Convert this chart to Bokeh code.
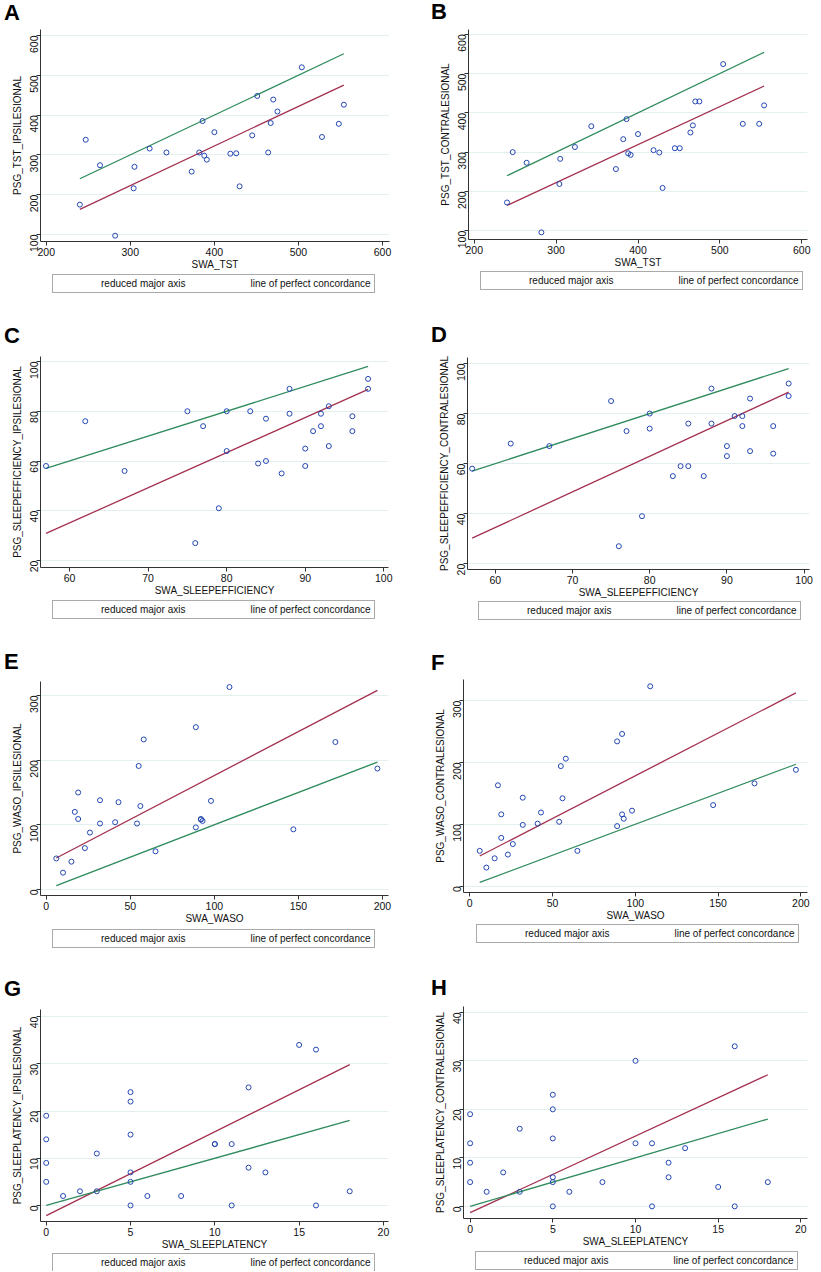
import math
import numpy as np
from bokeh.plotting import figure
from bokeh.models import FixedTicker, Legend, LegendItem, Range1d, Div
from bokeh.layouts import column, row
from bokeh.embed import file_html
from bokeh.resources import INLINE

# ---------------- data ----------------
swa_tst = [240, 247, 264, 282, 304, 305, 323, 343, 373, 382, 386, 388, 391, 400,
           419, 426, 430, 445, 451, 464, 467, 470, 475, 504, 528, 548, 554]
psg_tst_ipsi = [175, 338, 274, 97, 216, 270, 316, 306, 258, 306, 385, 298, 288, 357,
                303, 304, 221, 349, 448, 306, 380, 439, 409, 520, 345, 378, 426]
psg_tst_contra = [172, 300, 273, 96, 219, 283, 313, 366, 257, 333, 384, 297, 293, 346,
                  305, 299, 209, 310, 310, 350, 368, 429, 429, 524, 372, 372, 419]

swa_se = [57, 62, 67, 75, 76, 77, 79, 80, 80, 83, 84, 85, 85, 87,
          88, 88, 90, 90, 91, 92, 92, 93, 93, 96, 96, 98, 98]
psg_se_ipsi = [58, 76, 56, 80, 27, 74, 41, 80, 64, 80, 59, 77, 60, 55,
               89, 79, 65, 58, 72, 79, 74, 82, 66, 78, 72, 93, 89]
psg_se_contra = [58, 68, 67, 85, 27, 73, 39, 80, 74, 55, 59, 76, 59, 55,
                 90, 76, 67, 63, 79, 79, 75, 86, 65, 75, 64, 92, 87]

swa_waso = [6, 10, 15, 17, 19, 19, 23, 26, 32, 32, 41, 43, 54, 55,
            56, 58, 65, 89, 89, 92, 92, 93, 98, 109, 147, 172, 197]
psg_waso_ipsi = [48, 26, 43, 120, 150, 109, 64, 88, 138, 102, 104, 135, 102, 191,
                 129, 232, 59, 251, 96, 109, 108, 106, 137, 313, 93, 228, 187]
psg_waso_contra = [57, 30, 45, 163, 116, 78, 51, 68, 143, 99, 101, 119, 104, 194,
                   142, 206, 57, 234, 97, 246, 116, 109, 122, 323, 131, 166, 188]

swa_sl = [0, 0, 0, 0, 1, 2, 3, 3, 5, 5, 5, 5, 5, 5,
          6, 8, 10, 10, 11, 11, 12, 12, 13, 15, 16, 16, 18]
psg_sl_ipsi = [19, 14, 9, 5, 2, 3, 11, 3, 24, 22, 15, 7, 5, 0,
               2, 2, 13, 13, 13, 0, 25, 8, 7, 34, 33, 0, 3]
psg_sl_contra = [19, 13, 9, 5, 3, 7, 16, 3, 23, 20, 14, 6, 5, 0,
                 3, 5, 30, 13, 13, 0, 9, 6, 12, 4, 33, 0, 5]

tst_ticks_x = [200, 300, 400, 500, 600]
tst_ticks_y = [100, 200, 300, 400, 500, 600]
se_ticks_x = [60, 70, 80, 90, 100]
se_ticks_y = [20, 40, 60, 80, 100]
waso_ticks_x = [0, 50, 100, 150, 200]
waso_ticks_y = [0, 100, 200, 300]
sl_ticks_x = [0, 5, 10, 15, 20]
sl_ticks_y = [0, 10, 20, 30, 40]

legend_labels = ["reduced major axis", "line of perfect concordance"]

# ---------------- styles / layout ----------------
FONT = "Liberation Sans"
RED = "#a3304f"
GREEN = "#2f8b5c"
BLUE = "#2347b4"
GRID = "#e4eff0"
AX = "#333333"

ROW_TOP = [0, 315, 640, 965]
ROW_H = [315, 325, 325, 306]
COL_LEFT = [0, 410]
COL_W = [410, 411]
TOP_PAD = 9      # space above frame inside main figure
BOT_PAD = 31     # space for x axis inside main figure
LETTER_LH = 15   # line height of the letter box (px)
LETTER_BASE = (LETTER_LH - 22 * (0.905 + 0.212)) / 2 + 22 * 0.905  # baseline within line box


def blank_fig(w, h, **kw):
    f = figure(width=w, height=h, output_backend="svg", toolbar_location=None,
               x_axis_location=None, y_axis_location=None, frame_align=False, **kw)
    f.grid.visible = False
    f.outline_line_color = None
    f.background_fill_color = "white"
    f.border_fill_color = "white"
    return f


def make_panel(letter, x, y, xlab, ylab, xt, yt, xr, yr, r_i, c_i,
               frame, letter_pos, leg_pos):
    fl, fr, ft, fb = frame
    c0, W = COL_LEFT[c_i], COL_W[c_i]
    r0, H = ROW_TOP[r_i], ROW_H[r_i]
    hh = ft - r0 - TOP_PAD
    hm = TOP_PAD + (fb - ft) + BOT_PAD
    hl = H - hh - hm

    # ---- head with the panel letter ----
    pad_top = max(0, letter_pos[1] - r0 - LETTER_BASE)
    pad_left = letter_pos[0] - c0
    head = Div(text=(f'<div style="margin:0;padding:{pad_top:.1f}px 0 0 {pad_left}px;'
                     f"font-family:'{FONT}',Arial,sans-serif;font-size:22px;font-weight:bold;"
                     f'line-height:{LETTER_LH}px;color:#000;white-space:nowrap;">{letter}</div>'),
               width=W, height=hh, margin=0)

    # ---- main scatter ----
    p = figure(width=W, height=hm, x_range=Range1d(*xr), y_range=Range1d(*yr),
               output_backend="svg", toolbar_location=None, frame_align=False,
               min_border_left=fl - c0, min_border_right=c0 + W - fr,
               min_border_top=TOP_PAD, min_border_bottom=BOT_PAD)
    p.outline_line_color = None
    p.background_fill_color = "white"
    p.border_fill_color = "white"
    p.xgrid.grid_line_color = None
    p.ygrid.ticker = FixedTicker(ticks=yt)
    p.ygrid.grid_line_color = GRID
    p.ygrid.grid_line_width = 1
    for ax, ticks, lab in ((p.xaxis[0], xt, xlab), (p.yaxis[0], yt, ylab)):
        ax.ticker = FixedTicker(ticks=ticks)
        ax.axis_label = lab
        ax.axis_label_text_font = FONT
        ax.axis_label_text_font_size = "10px"
        ax.axis_label_text_font_style = "normal"
        ax.axis_label_text_color = "#111111"
        ax.major_label_text_font = FONT
        ax.major_label_text_font_size = "10.5px"
        ax.major_label_text_color = "#111111"
        ax.axis_line_color = AX
        ax.major_tick_line_color = AX
        ax.major_tick_out = 4
        ax.major_tick_in = 0
        ax.minor_tick_line_color = None
        ax.major_label_standoff = 2
        ax.axis_label_standoff = 0
    p.yaxis[0].major_label_orientation = math.pi / 2
    p.yaxis[0].major_label_standoff = 2
    p.yaxis[0].axis_label_standoff = 1

    xa = np.array(x, float)
    ya = np.array(y, float)
    r = np.corrcoef(xa, ya)[0, 1]
    slope = np.sign(r) * ya.std() / xa.std()
    icpt = ya.mean() - slope * xa.mean()
    x0, x1 = xa.min(), xa.max()
    p.line([x0, x1], [icpt + slope * x0, icpt + slope * x1], line_color=RED, line_width=1.3)
    p.line([x0, x1], [x0, x1], line_color=GREEN, line_width=1.3)
    p.scatter(x, y, marker="circle", size=5, fill_color=None,
              line_color=BLUE, line_width=1.0)

    # ---- legend strip ----
    leg_top_local = leg_pos[1] - (r0 + hh + hm)
    lf = blank_fig(W, hl, x_range=Range1d(0, 1), y_range=Range1d(0, 1),
                   min_border_left=max(0, leg_pos[0] - c0 - 1), min_border_right=0,
                   min_border_top=max(0, leg_top_local - 1), min_border_bottom=0)
    red_s = lf.line([], [], line_color=RED, line_width=1.3)
    green_s = lf.line([], [], line_color=GREEN, line_width=1.3)
    leg = Legend(items=[LegendItem(label=legend_labels[0], renderers=[red_s]),
                        LegendItem(label=legend_labels[1], renderers=[green_s])],
                 orientation="horizontal", location="top_left",
                 margin=1, padding=3, spacing=20, glyph_width=38, glyph_height=10,
                 label_standoff=7, label_height=10,
                 label_text_font=FONT, label_text_font_size="10px",
                 label_text_color="#111111",
                 border_line_color="#555555", border_line_width=1,
                 background_fill_color="white", background_fill_alpha=1.0)
    lf.add_layout(leg)
    return column(head, p, lf)


pA = make_panel("A", swa_tst, psg_tst_ipsi, "SWA_TST", "PSG_TST_IPSILESIONAL",
                tst_ticks_x, tst_ticks_y, (193.2, 608.3), (82.4, 615), 0, 0,
                (40, 389, 29, 241), (4, 20), (52, 274))
pB = make_panel("B", swa_tst, psg_tst_contra, "SWA_TST", "PSG_TST_CONTRALESIONAL",
                tst_ticks_x, tst_ticks_y, (193, 607), (77.8, 612), 0, 1,
                (468, 807, 29, 239), (431, 19), (480, 271))
pC = make_panel("C", swa_se, psg_se_ipsi, "SWA_SLEEPEFFICIENCY", "PSG_SLEEPEFFICIENCY_IPSILESIONAL",
                se_ticks_x, se_ticks_y, (56.3, 100.6), (17.2, 102), 1, 0,
                (40, 388, 356, 567), (4, 343), (52, 600))
pD = make_panel("D", swa_se, psg_se_contra, "SWA_SLEEPEFFICIENCY", "PSG_SLEEPEFFICIENCY_CONTRALESIONAL",
                se_ticks_x, se_ticks_y, (56.4, 100.7), (17.7, 102.4), 1, 1,
                (467, 809, 357, 569), (431, 342), (478, 601))
pE = make_panel("E", swa_waso, psg_waso_ipsi, "SWA_WASO", "PSG_WASO_IPSILESIONAL",
                waso_ticks_x, waso_ticks_y, (-3.4, 203.6), (-9.3, 321.6), 2, 0,
                (40, 388, 681, 895), (4, 669), (52, 929))
pF = make_panel("F", swa_waso, psg_waso_contra, "SWA_WASO", "PSG_WASO_CONTRALESIONAL",
                waso_ticks_x, waso_ticks_y, (-3.8, 204), (-10.3, 334), 2, 1,
                (463, 807, 679, 892), (431, 670), (476, 924))
pG = make_panel("G", swa_sl, psg_sl_ipsi, "SWA_SLEEPLATENCY", "PSG_SLEEPLATENCY_IPSILESIONAL",
                sl_ticks_x, sl_ticks_y, (-0.34, 20.3), (-3.4, 41.5), 3, 0,
                (40, 388, 1009, 1221), (4, 996), (52, 1252))
pH = make_panel("H", swa_sl, psg_sl_contra, "SWA_SLEEPLATENCY", "PSG_SLEEPLATENCY_CONTRALESIONAL",
                sl_ticks_x, sl_ticks_y, (-0.4, 20.4), (-2.5, 41.2), 3, 1,
                (463, 807, 1006, 1218), (431, 995), (475, 1251))

layout = column(row(pA, pB), row(pC, pD), row(pE, pF), row(pG, pH))

with open("out.html", "w") as f:
    f.write(file_html(layout, INLINE))
